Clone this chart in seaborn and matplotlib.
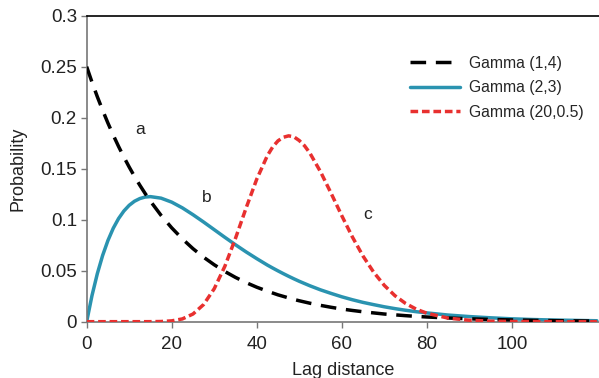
import matplotlib
matplotlib.use("Agg")
import matplotlib.pyplot as plt
import seaborn as sns
import pandas as pd

lag = [0, 1.25, 2.5, 3.75, 5, 6.25, 7.5, 8.75, 10, 11.25, 12.5, 13.75, 15, 17.5, 20,
       22.5, 25, 27.5, 30, 32.5, 35, 37.5, 40, 42.5, 43.75, 45, 46.25, 47.5, 48.75,
       50, 51.25, 52.5, 55, 57.5, 60, 62.5, 65, 67.5, 70, 72.5, 75, 77.5,
       80, 85, 90, 95, 100, 105, 110, 120]

gamma_1_4 = [0.2500, 0.2348, 0.2206, 0.2073, 0.1947, 0.1829, 0.1718, 0.1614, 0.1516,
             0.1424, 0.1338, 0.1257, 0.1181, 0.1042, 0.0920,
             0.0812, 0.0716, 0.0632, 0.0558, 0.0492, 0.0434, 0.0383, 0.0338, 0.0299,
             0.0281, 0.0263, 0.0248, 0.0233, 0.0218, 0.0205, 0.0193, 0.0181, 0.0160,
             0.0141, 0.0124, 0.0110, 0.0097,
             0.0086, 0.0075, 0.0067, 0.0059, 0.0052, 0.0046, 0.0036, 0.0028, 0.0022,
             0.0017, 0.0013, 0.0010, 0.0006]

gamma_2_3 = [0.0, 0.0256, 0.0470, 0.0649, 0.0796, 0.0916, 0.1011, 0.1085, 0.1141,
             0.1181, 0.1207, 0.1222, 0.1226, 0.1211, 0.1172,
             0.1116, 0.1049, 0.0977, 0.0902, 0.0827, 0.0754, 0.0684, 0.0618, 0.0555,
             0.0526, 0.0498, 0.0471, 0.0445, 0.0420, 0.0396, 0.0374, 0.0352, 0.0312,
             0.0277, 0.0244, 0.0215, 0.0189,
             0.0167, 0.0146, 0.0128, 0.0112, 0.0098, 0.0086, 0.0065, 0.0050, 0.0038,
             0.0028, 0.0021, 0.0016, 0.0009]

gamma_20_05 = [0.0, 0.0, 0.0, 0.0, 0.0, 0.0, 0.0, 0.0, 0.0, 0.0, 0.0, 0.0,
               0.00002, 0.00017, 0.0008, 0.0027,
               0.0075, 0.0168, 0.0323, 0.0543, 0.0817, 0.1115, 0.1397, 0.1628,
               0.1713, 0.1773, 0.1808, 0.1822, 0.1812, 0.1776, 0.1724, 0.1653, 0.1470,
               0.1258, 0.1039, 0.0830, 0.0643, 0.0485,
               0.0356, 0.0255, 0.0179, 0.0123, 0.0083, 0.0035, 0.0014, 0.0005, 0.0002,
               0.0001, 0.0, 0.0]

labels = ["Gamma (1,4)", "Gamma (2,3)", "Gamma (20,0.5)"]
x_ticks = [0, 20, 40, 60, 80, 100]
y_ticks = [0, 0.05, 0.1, 0.15, 0.2, 0.25, 0.3]
y_tick_labels = ["0", "0.05", "0.1", "0.15", "0.2", "0.25", "0.3"]

sns.set_style("white")
plt.rcParams['font.family'] = ['Liberation Sans', 'DejaVu Sans']

fig = plt.figure(figsize=(5.99, 3.78), dpi=100)
ax = fig.add_axes([0.1447, 0.149, 0.8553, 0.8095])

df_a = pd.DataFrame({"lag": lag, "p": gamma_1_4})
df_b = pd.DataFrame({"lag": lag, "p": gamma_2_3})
df_c = pd.DataFrame({"lag": lag, "p": gamma_20_05})

sns.lineplot(data=df_a, x="lag", y="p", ax=ax, color="black", lw=2.5,
             label=labels[0], zorder=3)
ax.lines[-1].set_dashes((4.5, 2.8))
sns.lineplot(data=df_b, x="lag", y="p", ax=ax, color="#2a93b0", lw=2.5,
             label=labels[1], zorder=2)
sns.lineplot(data=df_c, x="lag", y="p", ax=ax, color="#e8302f", lw=2.5,
             label=labels[2], zorder=4)
ax.lines[-1].set_dashes((2.2, 1.1))

ax.set_xlim(0, 120.5)
ax.set_ylim(0, 0.3)
ax.set_xticks(x_ticks)
ax.set_xticklabels([str(t) for t in x_ticks])
ax.set_yticks(y_ticks)
ax.set_yticklabels(y_tick_labels)
ax.tick_params(axis='both', which='major', bottom=True, left=True, top=False,
               right=False, labelsize=13.5, colors='#777777', labelcolor='#222222',
               direction='out', length=4, width=1, pad=3)
ax.tick_params(axis='x', pad=6)
ax.set_xlabel("Lag distance", fontsize=13, color='#222222', labelpad=7)
ax.set_ylabel("Probability", fontsize=13, color='#222222', labelpad=10)

for s in ['left', 'bottom']:
    ax.spines[s].set_color('#777777')
    ax.spines[s].set_linewidth(1.2)
ax.spines['top'].set_color('black')
ax.spines['top'].set_linewidth(1.2)
ax.spines['right'].set_visible(False)

ax.text(12.5, 0.188, "a", fontsize=12.5, color='#222222', ha='center', va='center')
ax.text(28.3, 0.122, "b", fontsize=12.5, color='#222222', ha='center', va='center')
ax.text(66, 0.105, "c", fontsize=12.5, color='#222222', ha='center', va='center')

leg = ax.legend(loc='upper left', bbox_to_anchor=(0.603, 0.915), frameon=False,
                fontsize=11.3, handlelength=3.2, handletextpad=0.6, labelspacing=0.6)

fig.savefig("out.png", dpi=100)
